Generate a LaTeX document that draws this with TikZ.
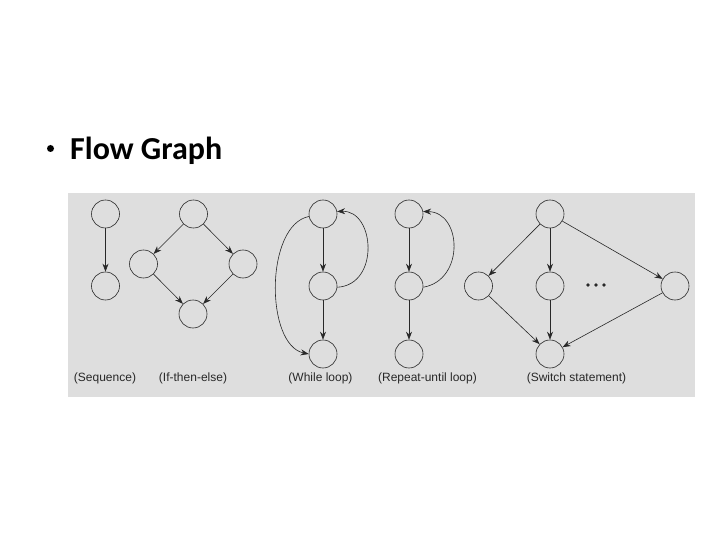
\documentclass[tikz,border=0pt]{standalone}
\usepackage{fontspec}
\setmainfont{Liberation Sans}
\newfontfamily\titlefont{Carlito}
\usetikzlibrary{arrows.meta}
\definecolor{panel}{RGB}{222,222,222}
\definecolor{ink}{RGB}{40,40,40}
\begin{document}
\begin{tikzpicture}[x=1pt,y=-1pt,
  nd/.style={circle,draw=ink,line width=0.6pt,minimum size=28pt,inner sep=0pt},
  ar/.style={draw=ink,line width=0.6pt,-{Stealth[length=8pt,width=6pt]}},
  lbl/.style={font=\fontsize{12}{14}\selectfont,text=ink,inner sep=0pt}]
\useasboundingbox (0,0) rectangle (720,540);
\fill[panel] (68,193) rectangle (695,397);
% title
\node[font=\titlefont\bfseries\fontsize{32}{36}\selectfont,anchor=base west,inner sep=0pt] (title) at (70,159.5) {Flow Graph};
\node[fill=black,circle,inner sep=0pt,minimum size=7pt] (bullet) at (50.5,148.5) {};
% sequence
\node[nd] (s1) at (105.5,214) {};
\node[nd] (s2) at (105.5,286) {};
\draw[ar] (s1) -- (s2);
% if-then-else
\node[nd] (i1) at (193.5,214) {};
\node[nd] (i2) at (143.5,264) {};
\node[nd] (i3) at (243,264) {};
\node[nd] (i4) at (193,314) {};
\draw[ar] (i1) -- (i2);
\draw[ar] (i1) -- (i3);
\draw[ar] (i2) -- (i4);
\draw[ar] (i3) -- (i4);
% while
\node[nd] (w1) at (323,214) {};
\node[nd] (w2) at (323,286) {};
\node[nd] (w3) at (323,354) {};
\draw[ar] (w1) -- (w2);
\draw[ar] (w2) -- (w3);
\draw[ar] (w1.190) .. controls (265,225) and (265,345) .. (w3.180);
\draw[ar] (w2.355) .. controls (380,285) and (375,210) .. (w1.10);
% repeat-until
\node[nd] (r1) at (409,214) {};
\node[nd] (r2) at (409,286) {};
\node[nd] (r3) at (409,354) {};
\draw[ar] (r1) -- (r2);
\draw[ar] (r2) -- (r3);
\draw[ar] (r2.355) .. controls (465,280) and (462,212) .. (r1.10);
% switch
\node[nd] (w0) at (550,214) {};
\node[nd] (wl) at (478.5,286) {};
\node[nd] (wm) at (550,286) {};
\node[nd] (wr) at (675,286) {};
\node[nd] (wb) at (550,354) {};
\draw[ar] (w0) -- (wl);
\draw[ar] (w0) -- (wm);
\draw[ar] (w0) -- (wr);
\draw[ar] (wl) -- (wb);
\draw[ar] (wm) -- (wb);
\draw[ar] (wr) -- (wb);
\node[inner sep=0pt] (dots) at (596,285) {\tikz[x=1pt,y=1pt]{\fill[ink] (0,0) circle (1.8) (8,0) circle (1.8) (16,0) circle (1.8);}};
% labels
\node[lbl] (l1) at (105,378) {(Sequence)};
\node[lbl] (l2) at (193,378) {(If-then-else)};
\node[lbl] (l3) at (320.5,378) {(While loop)};
\node[lbl] (l4) at (427.5,378) {(Repeat-until loop)};
\node[lbl] (l5) at (576.5,378) {(Switch statement)};
\end{tikzpicture}
\end{document}
